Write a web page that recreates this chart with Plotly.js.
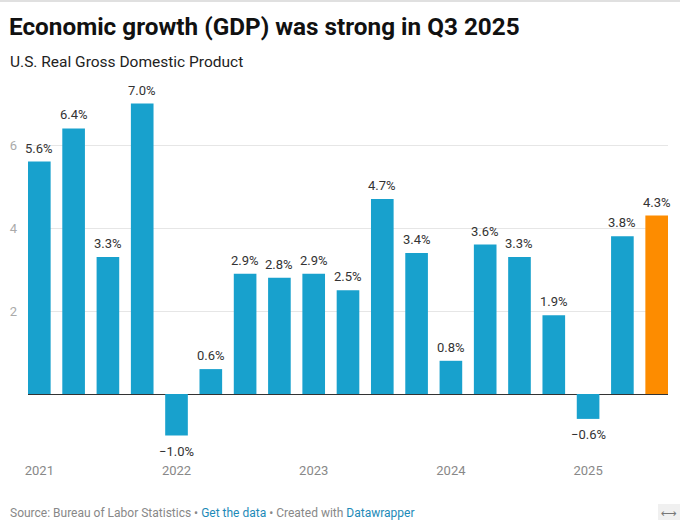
<!DOCTYPE html>
<html>
<head>
<meta charset="utf-8">
<script src="https://cdn.plot.ly/plotly-3.0.1.min.js"></script>
<style>html,body{margin:0;padding:0;background:#fff;}#chart{width:680px;height:520px;}</style>
</head>
<body>
<div id="chart"></div>
<script>
var quarters = ["2021 Q1","2021 Q2","2021 Q3","2021 Q4","2022 Q1","2022 Q2","2022 Q3","2022 Q4","2023 Q1","2023 Q2","2023 Q3","2023 Q4","2024 Q1","2024 Q2","2024 Q3","2024 Q4","2025 Q1","2025 Q2","2025 Q3"];
var growth = [5.6, 6.4, 3.3, 7.0, -1.0, 0.6, 2.9, 2.8, 2.9, 2.5, 4.7, 3.4, 0.8, 3.6, 3.3, 1.9, -0.6, 3.8, 4.3];
var yearTickVals = ["2021 Q1","2022 Q1","2023 Q1","2024 Q1","2025 Q1"];
var yearTickText = ["2021","2022","2023","2024","2025"];
var yTicks = [2, 4, 6];
var highlight = "2025 Q3";

var BLUE = "#18a1cd", ORANGE = "#fd8c00";
var L = 28, R = 668, T = 85, B = 445, W = 680, H = 520;
function px(x){ return (x - L) / (R - L); }
function py(y){ return (B - y) / (B - T); }

var colors = quarters.map(function(q){ return q === highlight ? ORANGE : BLUE; });

function fmt(v){
  var s = Math.abs(v).toFixed(1) + "%";
  return v < 0 ? "\u2212" + s : s;
}

var annotations = quarters.map(function(q, i){
  var v = growth[i];
  return {
    x: q, y: v, xref: "x", yref: "y",
    text: fmt(v), showarrow: false,
    xanchor: "center",
    yanchor: v < 0 ? "top" : "bottom",
    yshift: v < 0 ? -6 : 4,
    font: {family: "Roboto, sans-serif", size: 13, color: "#333333"}
  };
});

annotations.push({
  xref: "paper", yref: "paper", x: px(8), y: py(62),
  xanchor: "left", yanchor: "middle", showarrow: false,
  text: "U.S. Real Gross Domestic Product",
  font: {family: "Roboto, sans-serif", size: 15.5, color: "#222222"}
});
annotations.push({
  xref: "paper", yref: "paper", x: px(8), y: py(513),
  xanchor: "left", yanchor: "middle", showarrow: false,
  text: "Source: Bureau of Labor Statistics \u2022 <span style='color:#1d8ab8'>Get the data</span> \u2022 Created with <span style='color:#1d8ab8'>Datawrapper</span>",
  font: {family: "Roboto, sans-serif", size: 12, color: "#888888"}
});
annotations.push({
  xref: "paper", yref: "paper", x: px(669), y: py(513),
  xanchor: "center", yanchor: "middle", showarrow: false,
  text: "\u27F7",
  font: {family: "DejaVu Sans, sans-serif", size: 11, color: "#777777"}
});

var data = [{
  type: "bar",
  x: quarters,
  y: growth,
  marker: {color: colors, line: {width: 0}},
  hoverinfo: "x+y"
}];

var layout = {
  width: W, height: H,
  margin: {l: L, r: W - R, t: T, b: H - B, pad: 0},
  paper_bgcolor: "#ffffff", plot_bgcolor: "#ffffff",
  showlegend: false,
  bargap: 0.34,
  title: {
    text: "<b>Economic growth (GDP) was strong in Q3 2025</b>",
    xref: "container", yref: "container",
    x: 9 / W, y: 1 - 26 / H, xanchor: "left", yanchor: "middle",
    font: {family: "Roboto, sans-serif", size: 24.3, color: "#111111"}
  },
  xaxis: {
    type: "category",
    range: [-0.33, 18.33],
    tickmode: "array", tickvals: yearTickVals, ticktext: yearTickText,
    showgrid: false, zeroline: false, showline: false, ticks: "",
    ticklabelstandoff: 16,
    tickfont: {family: "Roboto, sans-serif", size: 13, color: "#888888"}
  },
  yaxis: {
    range: [-1.229, 7.446],
    tickmode: "array", tickvals: yTicks,
    showgrid: true, gridcolor: "#e6e6e6", gridwidth: 1,
    zeroline: true, zerolinecolor: "#333333", zerolinewidth: 1,
    showline: false, ticks: "",
    ticklabelstandoff: 10,
    tickfont: {family: "Roboto, sans-serif", size: 13, color: "#aaaaaa"}
  },
  shapes: [
    {type: "line", xref: "paper", yref: "paper", x0: px(0), x1: px(680), y0: py(1), y1: py(1),
     line: {color: "#e0e0e0", width: 2}},
    {type: "rect", xref: "paper", yref: "paper", x0: px(658), x1: px(680), y0: py(504), y1: py(520),
     fillcolor: "#f0f0f0", line: {width: 0}, layer: "below"}
  ],
  annotations: annotations
};

Plotly.newPlot("chart", data, layout, {displayModeBar: false, staticPlot: true});
</script>
</body>
</html>
